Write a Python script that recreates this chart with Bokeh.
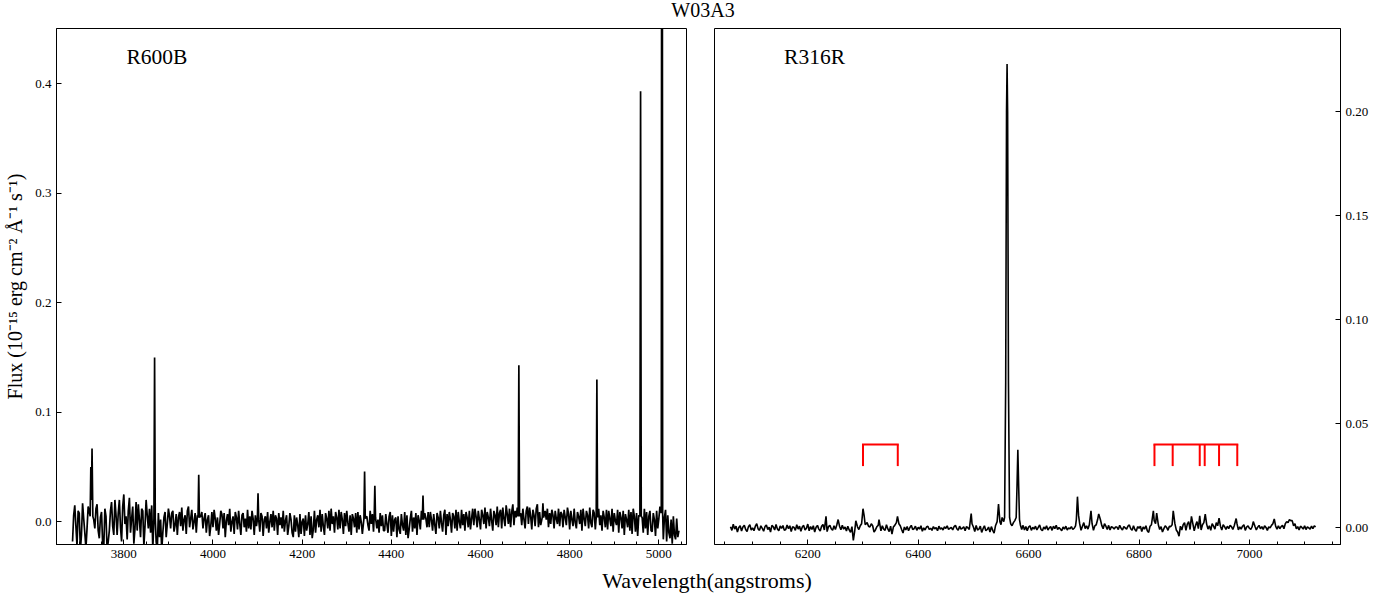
import numpy as np
from bokeh.plotting import figure
from bokeh.models import Range1d, SingleIntervalTicker, PrintfTickFormatter, Label, Div
from bokeh.layouts import row, column
from bokeh.embed import file_html
from bokeh.resources import INLINE

FONT = "Liberation Serif"

# ---------------- data ----------------
TITLE = "W03A3"
XLABEL = "Wavelength(angstroms)"
YLABEL = "Flux (10\u207b\u00b9\u2075 erg cm\u207b\u00b2 \u00c5\u207b\u00b9 s\u207b\u00b9)"
PANEL_NAMES = ["R600B", "R316R"]

# R600B continuum, 2.5 A steps from 3685 A, flux in 1e-3 units
blue_start = 3685.0
blue_step = 2.5
blue_cont = [
    -18, 6, 15, -4, -22, 10, 8, -26, -12, 17, 3, -10, -24, -6, 14, 9, -28, -15, 10, 2,
    -6, 12, 16, -8, -15, 4, 9, -20, -24, 12, 5, -26, -18, -8, 10, 18, -4, -12, 20, 6,
    -12, 8, 20, -5, -18, 14, 25, -2, 5, -16, 10, 22, -10, 3, 14, -20, -6, 18, -8, 16,
    2, -14, 12, 10, -22, -4, 20, 6, -6, 12, -10, 15, -25, 4, 11, -18, -26, 8, -14, 2,
    -26, -10, 4, 9, -14, -2, 12, 5, -6, 8, 10, -9, -3, 7, -12, 4, 9, -4, 13, -8,
    2, 6, -11, 10, 14, -5, 3, 11, -7, 0, 8, -10, 6, 12, -8, 5, 9, -6, 3, 8,
    -10, 2, 6, -13, -4, 9, -5, 11, 3, -8, 4, -12, -2, 10, 7, -6, 8, -14, 1, 7,
    -3, 12, -9, 0, 5, -11, 9, 4, -7, 10, -2, -12, 6, 8, -5, 3, -9, 11, -6, 5,
    -7, 10, 3, -12, 6, -4, 11, -1, -9, 8, 5, -13, 2, 5, -6, 9, -10, 0, 7, -5,
    10, -8, 6, 3, -12, 8, -3, 4, -6, 10, -9, 1, 6, -12, -4, 8, 2, -10, -14, 6,
    -9, 4, -3, -14, 7, -11, 0, 3, -13, 6, -8, -2, 9, -12, 5, -15, -7, 10, -10, 2,
    6, -5, 11, -9, 7, -4, -12, 8, 3, -6, 10, -8, 12, -2, 5, -10, 9, 4, -7, 11,
    -6, 9, 2, -11, 8, -4, 10, -1, -9, 6, -12, 7, 3, -5, 8, -10, 9, -7, 6, 0,
    -11, 12, -6, 8, 5, -3, -8, 10, -2, 7, -9, 4, 11, -6, 2, -10, 8, -4, 6, -8,
    -8, 7, -2, -10, 5, 9, -13, 6, -9, 2, 4, -14, 5, -7, -11, 7, -3, -8, 9, -12,
    6, -15, -7, 3, 10, -9, 4, -6, 8, -12, 6, 1, -7, 10, -4, -9, 8, 3, -5, 9,
    -5, 9, 2, -8, 7, -3, -11, 8, 4, -6, 10, -1, -9, 6, 11, -12, 7, -4, 9, 2,
    -10, 8, 5, -6, 11, -8, 9, 0, -6, 11, -3, 7, -8, 9, 4, -5, 10, -7, 3, 12,
    -3, 12, 5, -5, 10, 2, -7, 11, 6, -2, 13, -6, 9, 4, -4, 12, 1, -8, 10, 6,
    -3, 14, -5, 8, 11, -6, 13, 3, -4, 15, 7, -2, 12, -5, 9, 16, -3, 10, 4, 13,
    -4, 15, 8, -3, 12, 2, -6, 10, 14, -2, 13, 5, -7, 11, 6, -4, 12, 16, -5, 9,
    -3, 11, 4, -6, 10, 2, 12, -5, 8, -2, 11, 6, -6, 10, 3, -2, 12, -4, 9, 7,
    -5, 11, 4, -3, 13, 7, -7, 10, 2, -4, 12, -1, -6, 9, 5, -2, 11, -8, 12, 3,
    -4, 10, 6, -6, 13, -1, -5, 11, 8, -7, 9, 2, 12, -3, 6, -8, 10, 4, -5, 11,
    -7, 10, 3, -4, 12, -9, 8, 1, -3, 11, -10, 9, 4, -6, 10, -12, 7, 2, -5, 11,
    -8, 9, -11, 12, 5, -9, 8, -13, 6, 10, -7, 4, -10, 12, -6, 9, -12, 5, 10, -8,
    -9, 8, 2, -13, 10, -6, 3, 14, -12, 7, -16, 4, 11, -18, 6, -10, -15, 2, -20, 5,
    -12, -16, 3, -14, -8,
]
# R600B emission lines (wavelength A, flux 1e-3)
blue_line_wave = [3724.5, 3726.0, 3727.3, 3728.7, 3730.5,
                  3867.5, 3869.0, 3870.5,
                  3966.5, 3968.0, 3969.5,
                  4099.5, 4101.0, 4102.5,
                  4338.5, 4340.0, 4341.5,
                  4361.5, 4363.0, 4364.5,
                  4469.5, 4471.0, 4472.5,
                  4684.5, 4686.0, 4687.5,
                  4738.5, 4740.0, 4741.5,
                  4859.5, 4861.0, 4862.5,
                  4957.5, 4959.0, 4960.5,
                  5005.5, 5007.0, 5008.5]
blue_line_flux = [5, 50, 20, 67, 5,
                  3, 150, 3,
                  4, 43, 4,
                  2, 26, 2,
                  3, 46, 3,
                  4, 33, 4,
                  2, 24, 2,
                  5, 143, 5,
                  4, 17, 4,
                  4, 130, 4,
                  5, 393, 5,
                  8, 1180, 8]

# R316R continuum, 2.5 A steps from 6060 A, flux in 1e-4 units
red_start = 6060.0
red_step = 2.5
red_cont = [
    5, -12, 18, -6, 8, -20, 2, 10, -15, 4, 12, -8, -18, 6, 15, -10, 0, -14, 8, 20,
    -5, -12, 10, -2, -16, 6, 14, -8, 3, -20, 12, 5, -10, 16, -6, -14, 9, -3, 11, -12,
    -8, 14, -4, 10, -18, 6, 2, -12, 15, -6, 8, -16, 4, 12, -10, -2, 18, -14, 6, -8,
    10, -20, 3, 12, -6, -15, 8, 16, -10, 2, -18, 6, 12, -4, -12, 10, -8, 14, -6, 8,
    -9, 12, -6, 4, -15, 8, -10, -22, 6, -60, -15, 20, 5, -8, 10, 0, 0, 0, 0, 25,
    8, 4, 20, 10, -20, -10, 5, 12, 0, -14, 10, -6, -12, 15, -5, -18, 8, -30, 4, 12,
    0, 0, 0, 10, -8, -25, 4, -10, 6, -14, 2, 12, -8, -4, 8, -12, 3, -6, 10, -16,
    0, -10, 4, 8, -8, -2, -12, 6, -5, 2, -14, 8, -6, 0, -10, 5, -3, 10, -8, -2,
    2, -10, 6, 12, -4, -12, 8, -6, -2, 5, -14, 6, 0, -8, 0, 20, 4, -18, 12, -10,
    -6, 8, -22, -4, 10, -14, -8, 4, -20, 6, -12, -25, 10, 0, 0, 0, 15, 0, 30, 0,
    0, 0, 0, 20, 10, 25, 35, 0, 0, 0, 15, -8, 12, -10, 6, -14, 4, 10, -12, 3,
    -6, 8, -10, 2, 14, -8, -14, 4, -6, 10, -10, 0, 6, -12, 8, -4, 12, -8, 2, -6,
    -14, 4, -6, 8, -10, 0, -4, 6, -8, -2, 10, 0, 0, 20, -12, 8, 25, -4, 10, -6,
    15, 0, 20, -12, 10, 15, 0, 0, 0, 12, -4, 20, 8, -8, 12, -10, 6, 2, -6, 4,
    4, -8, 12, -2, -10, 6, 0, -6, 8, 14, -4, -12, 10, -8, -16, 6, -2, 8, -18, 4,
    -6, 10, -14, -22, 8, 15, 0, 35, 20, 0, 15, -8, 6, -20, -4, 10, 2, -12, 8, 6,
    15, 0, 20, -10, -20, -40, 8, -10, 15, 25, -12, 18, 30, -8, 0, 20, -14, 12, 30, -4,
    0, -10, 15, 25, 0, 18, -6, 10, -12, 20, 8, -6, 25, 10, 0, 8, -10, 15, 6, -8,
    8, -4, 12, 6, -8, 10, 0, 20, -10, 5, -6, 8, 15, -12, 4, 10, -2, -8, 6, 0,
    8, -10, 3, 12, -4, 6, -8, 10, 2, -12, 5, 0, 12, 20, 0, 8, -6, 10, -4, 6,
    12, -4, 20, 30, 25, 40, 18, 35, 10, 20, -4, 6, -10, 8, 2, -6, 10, -8, 5, 0,
    -6, 8, -4, 10, 5,
]
# R316R emission lines (wavelength A, flux 1e-4)
red_line_wave = [6233, 6255, 6287,
                 6297.5, 6300, 6302, 6304,
                 6329, 6360.5, 6362.5, 6365, 6496,
                 6543, 6545.5, 6548, 6552,
                 6556.5, 6558.5, 6560, 6561, 6562, 6563.5, 6565.5,
                 6577.5, 6579, 6580.5, 6582, 6583.5,
                 6686.5, 6688.5, 6690.5,
                 6713, 6725, 6727, 6730,
                 6826, 6832, 6862, 6895, 6910, 6920, 6945, 6976, 7007, 7045, 7075]
red_line_flux = [55, 40, 34,
                 20, 92, 60, 15,
                 40, 25, 55, 20, 69,
                 30, 114, 30, 50,
                 50, 700, 2000, 2230, 2000, 700, 50,
                 50, 200, 375, 200, 40,
                 40, 150, 60,
                 82, 40, 67, 40,
                 82, 71, 82, 55, 58, 66, 47, 45, 30, 43, 35]

# red marker brackets (wavelength A) and their heights (flux)
bracket1_wave = [6300, 6363]
bracket2_wave = [6828, 6861, 6910, 6919, 6945, 6978]
bracket_top = 0.0401
bracket_bottom = 0.0297


def merge(start, step, cont, lw, lf, scale, tol):
    gx = start + step * np.arange(len(cont))
    gy = np.asarray(cont, float) * scale
    lx = np.asarray(lw, float)
    ly = np.asarray(lf, float) * scale
    d = np.min(np.abs(gx[:, None] - lx[None, :]), axis=1)
    keep = d >= tol
    x = np.concatenate([gx[keep], lx])
    y = np.concatenate([gy[keep], ly])
    o = np.argsort(x, kind="stable")
    return x[o], y[o]


bx, by = merge(blue_start, blue_step, blue_cont, blue_line_wave, blue_line_flux, 1e-3, 1.25)
rx, ry = merge(red_start, red_step, red_cont, red_line_wave, red_line_flux, 1e-4, 1.25)


def style(p):
    p.outline_line_color = "black"
    p.outline_line_width = 1
    p.outline_line_alpha = 1.0
    p.grid.visible = False
    p.background_fill_color = "white"
    p.border_fill_color = "white"
    for ax in p.axis:
        ax.axis_line_color = "black"
        ax.major_tick_in = 5
        ax.major_tick_out = 0
        ax.minor_tick_in = 3
        ax.minor_tick_out = 0
        ax.major_tick_line_color = "black"
        ax.minor_tick_line_color = "black"
        ax.major_label_text_font = FONT
        ax.major_label_text_font_size = "13px"
        ax.major_label_text_color = "black"
        ax.major_label_standoff = 5
        ax.axis_label_text_font = FONT
        ax.axis_label_text_font_style = "normal"
        ax.axis_label_text_color = "black"


p1 = figure(width=700, height=541,
            x_range=Range1d(3649, 5062), y_range=Range1d(-0.0207, 0.4504),
            min_border_left=56, min_border_right=14, min_border_top=1, min_border_bottom=24,
            output_backend="svg", toolbar_location=None)
style(p1)
p1.xaxis.ticker = SingleIntervalTicker(interval=200, num_minor_ticks=4)
p1.yaxis.ticker = SingleIntervalTicker(interval=0.1, num_minor_ticks=2)
p1.yaxis.minor_tick_line_color = None
p1.yaxis.formatter = PrintfTickFormatter(format="%.1f")
p1.yaxis.axis_label = YLABEL
p1.yaxis.axis_label_text_font_size = "20px"
p1.yaxis.axis_label_standoff = 6
p1.line(bx, by, line_color="black", line_width=1.7)
p1.add_layout(Label(x=3806, y=0.435, text=PANEL_NAMES[0], text_font=FONT,
                    text_font_size="21.5px", text_baseline="top", text_color="black"))

p2 = figure(width=671, height=541,
            x_range=Range1d(6031, 7165), y_range=Range1d(-0.0080, 0.2401),
            y_axis_location="right",
            min_border_left=14, min_border_right=28, min_border_top=1, min_border_bottom=24,
            output_backend="svg", toolbar_location=None)
style(p2)
p2.xaxis.ticker = SingleIntervalTicker(interval=200, num_minor_ticks=4)
p2.yaxis.ticker = SingleIntervalTicker(interval=0.05, num_minor_ticks=2)
p2.yaxis.minor_tick_line_color = None
p2.yaxis.formatter = PrintfTickFormatter(format="%.2f")
p2.line(rx, ry, line_color="black", line_width=1.6)
for bw in (bracket1_wave, bracket2_wave):
    n = len(bw)
    p2.segment(x0=bw, y0=[bracket_bottom] * n, x1=bw, y1=[bracket_top] * n,
               line_color="red", line_width=2)
    p2.segment(x0=[min(bw)], y0=[bracket_top], x1=[max(bw)], y1=[bracket_top],
               line_color="red", line_width=2, line_cap="square")
p2.add_layout(Label(x=6157, y=0.2321, text=PANEL_NAMES[1], text_font=FONT,
                    text_font_size="21.5px", text_baseline="top", text_color="black"))

TOTAL_W = 1371


def centered_div(text, pad, size, h):
    html = ('<div style="width:%dpx;box-sizing:border-box;padding-left:%dpx;'
            'text-align:center;font-family:\'Liberation Serif\';font-size:%dpx;'
            'line-height:%dpx;color:black;white-space:nowrap">%s</div>') % (TOTAL_W, pad, size, h, text)
    return Div(text=html, width=TOTAL_W, height=h, margin=0)


title_div = centered_div(TITLE, 35, 20, 20)
title_div.height = 27
xlabel_div = centered_div(XLABEL, 43, 22, 26)

layout = column(title_div, row(p1, p2, spacing=0), xlabel_div, spacing=0)

open("out.html", "w").write(file_html(layout, INLINE))
